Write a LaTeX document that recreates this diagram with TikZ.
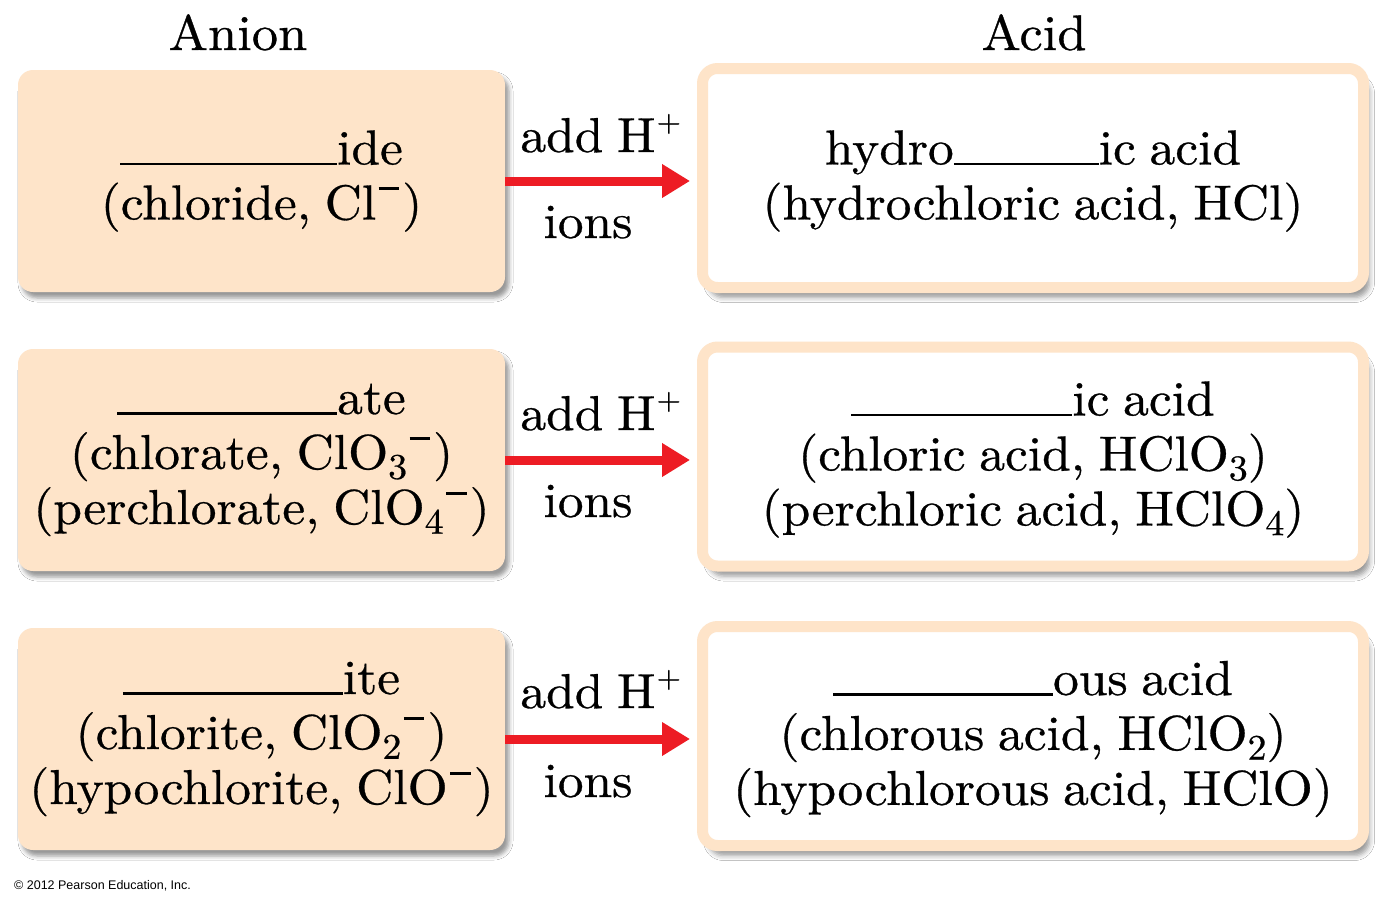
\documentclass[tikz,border=0pt]{standalone}
\usepackage{fontspec}
\setmainfont{lmroman10-regular.otf}[FakeStretch=1.05,FakeBold=0.6,WordSpace=0.8]
\newfontfamily\cpfont{Liberation Sans}
\usetikzlibrary{arrows.meta,shadows.blur}
\definecolor{peach}{HTML}{FEE4C9}
\definecolor{arrowred}{HTML}{ED1C24}
\newcommand{\blankline}[1]{\rule[-1pt]{#1pt}{2.6pt}}
\newcommand{\chsub}[1]{\raisebox{-0.2em}{\fontsize{36}{36}\selectfont #1}}
\newcommand{\chminus}{\kern0.05em\raisebox{0.6em}{\rule{0.42em}{0.055em}}\kern0.06em}
\newcommand{\chplus}{\rlap{\kern0.02em\raisebox{0.42em}{\fontsize{30}{30}\selectfont +}}}
\begin{document}
\begin{tikzpicture}[x=1pt,y=-1pt,
  bigtext/.style={font=\fontsize{49}{55}\selectfont, align=center, text=black, inner sep=0pt},
  anionbox/.style={bigtext, fill=peach, rounded corners=15pt, minimum width=487pt, minimum height=222pt,
    blur shadow={shadow xshift=4pt, shadow yshift=-6pt, shadow blur radius=4pt, shadow opacity=40}},
  acidbox/.style={fill=white, draw=peach, line width=11pt, rounded corners=15pt, minimum width=661pt, minimum height=219pt, inner sep=0pt,
    blur shadow={shadow xshift=6pt, shadow yshift=-10pt, shadow blur radius=5pt, shadow opacity=40}},
  addarrow/.style={draw=arrowred, line width=9pt, -{Triangle[length=28pt,width=32pt]}, shorten >=7pt},
  lbl/.style={font=\fontsize{49}{55}\selectfont, inner sep=0pt, anchor=base},
  head/.style={font=\fontsize{50}{55}\selectfont, inner sep=0pt, anchor=base}]
\fill[white] (0,0) rectangle (1400,902);
\useasboundingbox (0,0) rectangle (1400,902);

\node[head] (hanion) at (238,50) {Anion};
\node[head] (hacid) at (1034,50) {Acid};

\node[anionbox] (anion1) at (261.5,181) {\blankline{217}ide\\(chloride, Cl\chminus)};
\node[anionbox] (anion2) at (261.5,460) {\blankline{220}ate\\(chlorate, ClO\chsub{3}\chminus)\\(perchlorate, ClO\chsub{4}\chminus)};
\node[anionbox] (anion3) at (261.5,739) {\blankline{220}ite\\(chlorite, ClO\chsub{2}\chminus)\\(hypochlorite, ClO\chminus)};

\node[acidbox] (acid1) at (1033,178) {};
\node[acidbox] (acid2) at (1033,456.5) {};
\node[acidbox] (acid3) at (1033,736) {};
\node[bigtext] (acid1t) at ([yshift=-3pt]acid1.center) {hydro\blankline{145}ic acid\\(hydrochloric acid, HCl)};
\node[bigtext] (acid2t) at ([yshift=-3pt]acid2.center) {\blankline{221}ic acid\\(chloric acid, HClO\chsub{3})\\(perchloric acid, HClO\chsub{4})};
\node[bigtext] (acid3t) at ([yshift=-3pt]acid3.center) {\blankline{220}ous acid\\(chlorous acid, HClO\chsub{2})\\(hypochlorous acid, HClO)};

\draw[addarrow] (anion1.east) -- (anion1.east -| acid1.west);
\draw[addarrow] (anion2.east) -- (anion2.east -| acid2.west);
\draw[addarrow] (anion3.east) -- (anion3.east -| acid3.west);

\node[lbl] (add1) at (588,152) {add H\chplus};
\node[lbl] (ions1) at (588,238) {ions};
\node[lbl] (add2) at (588,430) {add H\chplus};
\node[lbl] (ions2) at (588,517) {ions};
\node[lbl] (add3) at (588,708) {add H\chplus};
\node[lbl] (ions3) at (588,797) {ions};

\node[font=\cpfont\fontsize{12.5}{14}\selectfont, anchor=base west, inner sep=0pt] (copy) at (14,889) {© 2012 Pearson Education, Inc.};
\end{tikzpicture}
\end{document}
